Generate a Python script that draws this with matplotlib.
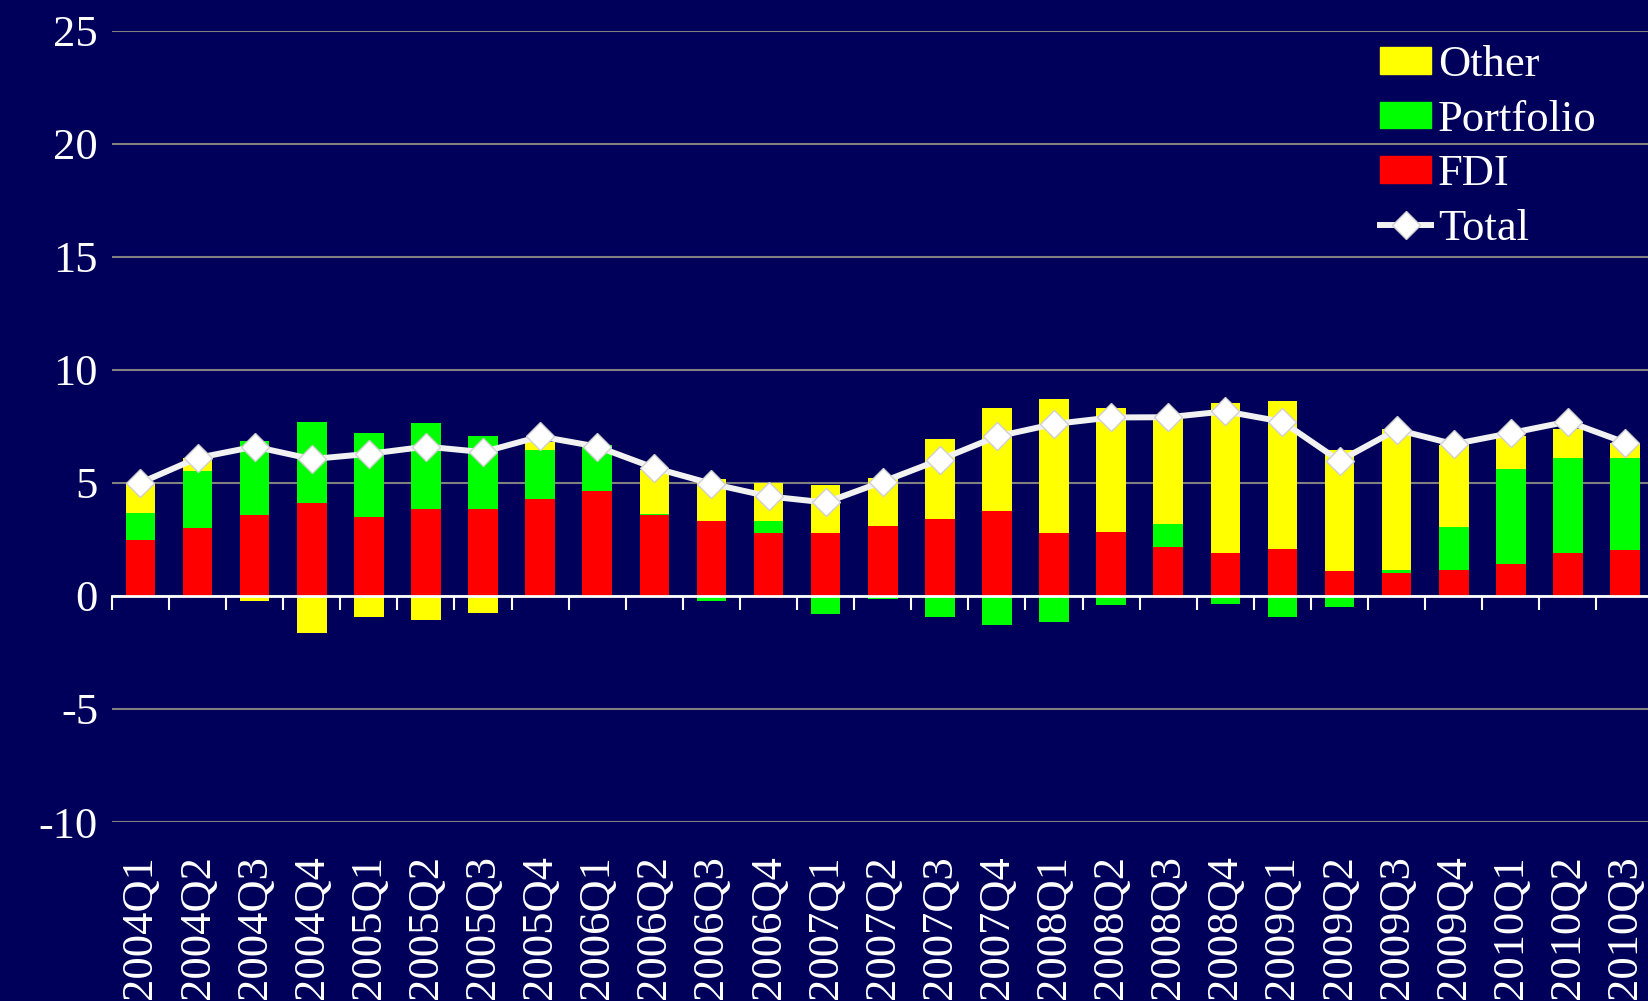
import numpy as np
import matplotlib
matplotlib.use("Agg")
import matplotlib.pyplot as plt
from matplotlib.lines import Line2D
from matplotlib.patches import Patch

plt.rcParams['font.family'] = ['Liberation Serif', 'DejaVu Serif']

quarters = ['2004Q1', '2004Q2', '2004Q3', '2004Q4',
            '2005Q1', '2005Q2', '2005Q3', '2005Q4',
            '2006Q1', '2006Q2', '2006Q3', '2006Q4',
            '2007Q1', '2007Q2', '2007Q3', '2007Q4',
            '2008Q1', '2008Q2', '2008Q3', '2008Q4',
            '2009Q1', '2009Q2', '2009Q3', '2009Q4',
            '2010Q1', '2010Q2', '2010Q3']

fdi = [2.45, 3.02, 3.58, 4.11, 3.50, 3.82, 3.85, 4.29, 4.65, 3.58, 3.33, 2.77,
       2.77, 3.10, 3.42, 3.76, 2.80, 2.83, 2.14, 1.89, 2.06, 1.12, 0.99, 1.15,
       1.42, 1.90, 2.02]
portfolio = [1.20, 2.50, 3.28, 3.56, 3.71, 3.82, 3.24, 2.15, 2.03, 0.05, -0.21, 0.55,
             -0.81, -0.13, -0.93, -1.28, -1.15, -0.41, 1.05, -0.37, -0.93, -0.50, 0.15, 1.90,
             4.17, 4.20, 4.07]
other = [1.35, 0.57, -0.24, -1.62, -0.94, -1.06, -0.75, 0.35, -0.06, 1.95, 1.83, 1.69,
         2.14, 2.10, 3.53, 4.57, 5.90, 5.47, 4.71, 6.66, 6.55, 5.34, 6.23, 3.63,
         1.50, 1.30, 0.67]
total = [5.00, 6.10, 6.60, 6.05, 6.28, 6.60, 6.36, 7.05, 6.60, 5.66, 4.96, 4.40,
         4.13, 5.05, 6.02, 7.05, 7.60, 7.89, 7.90, 8.16, 7.70, 5.97, 7.35, 6.71,
         7.20, 7.71, 6.78]
yticks = [-10, -5, 0, 5, 10, 15, 20, 25]

bg = '#00005A'
fs = 32

fig = plt.figure(figsize=(16.49, 10.01), dpi=100)
fig.patch.set_facecolor(bg)
ax = fig.add_axes([111.9/1649, 0.1788, 1541.7/1649, 0.7907])
ax.set_facecolor(bg)

x = np.arange(len(quarters))
w = 0.52
pos = np.zeros(len(x))
neg = np.zeros(len(x))
for vals, col in [(fdi, '#FF0000'), (portfolio, '#00FF00'), (other, '#FFFF00')]:
    v = np.array(vals)
    bottom = np.where(v >= 0, pos, neg)
    ax.bar(x, v, w, bottom=bottom, color=col, zorder=2)
    pos = pos + np.where(v >= 0, v, 0)
    neg = neg + np.where(v < 0, v, 0)

ax.plot(x, total, color='#F2F2F2', lw=4.3, marker='D', ms=14,
        mfc='white', mec='#D0D0D0', mew=1, zorder=4)

ax.set_ylim(-10, 25)
ax.set_xlim(-0.5, len(x) - 0.5)
ax.set_yticks(yticks, [str(t) for t in yticks])
ax.yaxis.grid(True, color='#808080', lw=1.5, zorder=0)
ax.set_axisbelow(True)
ax.tick_params(axis='y', length=0, pad=10, labelsize=fs, labelcolor='white')

for s in ['top', 'right', 'left']:
    ax.spines[s].set_visible(False)
ax.spines['bottom'].set_position(('data', 0))
ax.spines['bottom'].set_color('white')
ax.spines['bottom'].set_linewidth(2)
ax.spines['bottom'].set_zorder(3)
ax.set_xticks(x, [''] * len(x))
ax.set_xticks(np.arange(len(x) + 1) - 0.5, minor=True)
ax.tick_params(axis='x', which='major', length=0)
ax.tick_params(axis='x', which='minor', length=10, width=1.5, color='white', direction='out')

sec = ax.secondary_xaxis(0.0)
sec.set_xticks(x, quarters, rotation=90)
sec.tick_params(length=0, pad=24, labelsize=fs, labelcolor='white')
sec.spines['bottom'].set_visible(False)

handles = [Patch(color='#FFFF00'), Patch(color='#00FF00'), Patch(color='#FF0000'),
           Line2D([], [], color='#F2F2F2', lw=4.3, marker='D', ms=14,
                  mfc='white', mec='#D0D0D0')]
leg = ax.legend(handles, ['Other', 'Portfolio', 'FDI', 'Total'],
                loc='upper left', bbox_to_anchor=(1380/1649, 1 - 45/1001),
                bbox_transform=fig.transFigure, frameon=False, fontsize=fs,
                handlelength=1.15, handleheight=0.55, handletextpad=0.15,
                labelspacing=0.33, borderpad=0, borderaxespad=0)
for t in leg.get_texts():
    t.set_color('white')

fig.savefig('out.png', dpi=100, facecolor=bg)
